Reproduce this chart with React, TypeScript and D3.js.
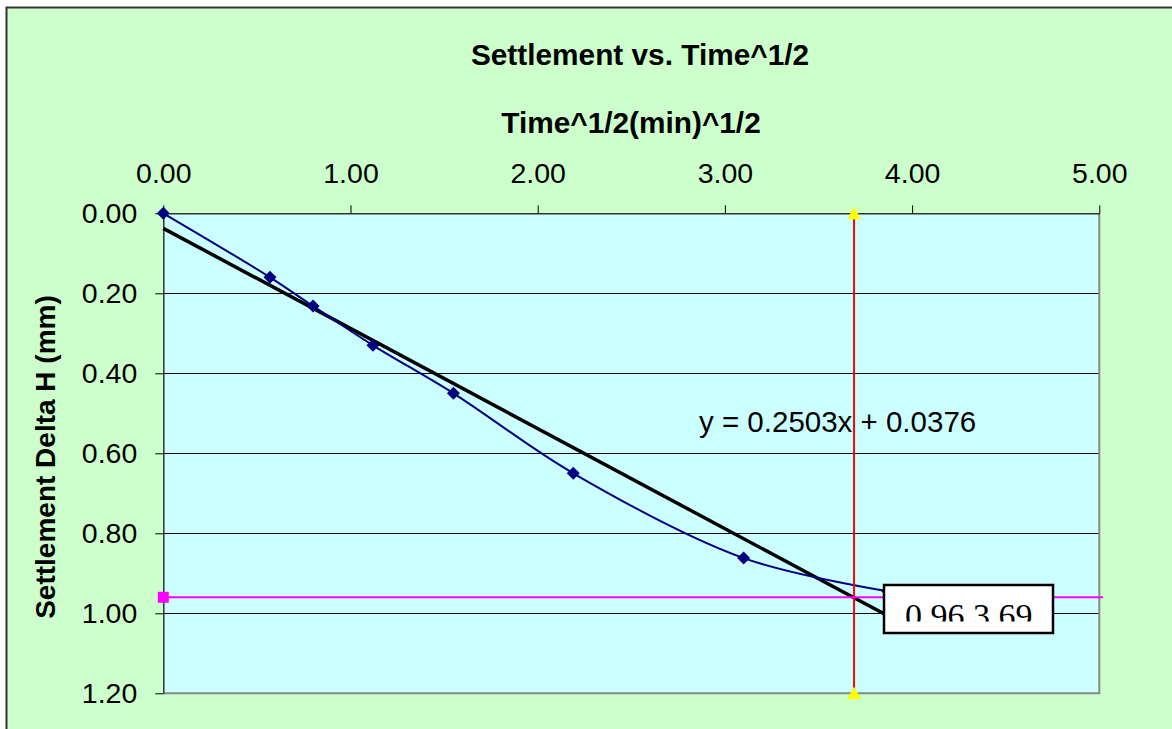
import React, { useEffect, useRef } from "react";
import * as d3 from "d3";

// sqrt(time) vs settlement readings
const timeRoot = [0, 0.57, 0.8, 1.12, 1.55, 2.19, 3.1, 3.87];
const settlement = [0, 0.16, 0.232, 0.33, 0.45, 0.65, 0.862, 0.945];

const xTicks = [0, 1, 2, 3, 4, 5];
const yTicks = [0, 0.2, 0.4, 0.6, 0.8, 1.0, 1.2];

const trendSlope = 0.2503;
const trendIntercept = 0.0376;

const readX = 3.69;
const readY = 0.96;
const readLineEnd = 5.02;

const SANS = "'Liberation Sans', Arial, sans-serif";

export default function App() {
  const ref = useRef<SVGSVGElement>(null);

  useEffect(() => {
    const svg = d3.select(ref.current);
    svg.selectAll("*").remove();

    const W = 1172;
    const H = 729;
    const x = d3.scaleLinear().domain([0, 5]).range([163.3, 1099.3]);
    const y = d3.scaleLinear().domain([0, 1.2]).range([213.3, 693.3]);

    svg.append("rect").attr("width", W).attr("height", H).attr("fill", "#fff");
    svg
      .append("rect")
      .attr("x", 6.5)
      .attr("y", 7.5)
      .attr("width", W + 20)
      .attr("height", H + 20)
      .attr("fill", "#ccffcc")
      .attr("stroke", "#333")
      .attr("stroke-width", 2);

    // plot area
    svg
      .append("rect")
      .attr("x", x(0))
      .attr("y", y(0))
      .attr("width", x(5) - x(0))
      .attr("height", y(1.2) - y(0))
      .attr("fill", "#ccffff");

    // gridlines
    svg
      .append("g")
      .selectAll("line")
      .data(yTicks.slice(1, -1))
      .enter()
      .append("line")
      .attr("x1", x(0))
      .attr("x2", x(5))
      .attr("y1", (d) => Math.round(y(d)) + 0.5)
      .attr("y2", (d) => Math.round(y(d)) + 0.5)
      .attr("stroke", "#000")
      .attr("stroke-width", 1);

    // right / bottom border (gray)
    svg
      .append("path")
      .attr("d", `M${x(5)},${y(0)}V${y(1.2)}H${x(0)}`)
      .attr("fill", "none")
      .attr("stroke", "#888")
      .attr("stroke-width", 2);

    // axes
    const xAxis = svg
      .append("g")
      .attr("transform", `translate(0,${y(0)})`)
      .call(
        d3
          .axisTop(x)
          .tickValues(xTicks)
          .tickFormat(d3.format(".2f"))
          .tickSizeInner(8)
          .tickSizeOuter(0)
          .tickPadding(22)
      );
    const yAxis = svg
      .append("g")
      .attr("transform", `translate(${x(0)},0)`)
      .call(
        d3
          .axisLeft(y)
          .tickValues(yTicks)
          .tickFormat(d3.format(".2f"))
          .tickSizeInner(8)
          .tickSizeOuter(0)
          .tickPadding(18)
      );
    [xAxis, yAxis].forEach((g) => {
      g.select(".domain").attr("stroke", "#333").attr("stroke-width", 1.5);
      g.selectAll(".tick line").attr("stroke", "#000");
      g.selectAll(".tick text")
        .attr("font-family", SANS)
        .attr("font-size", 28.5)
        .attr("fill", "#000");
    });

    // trend line
    const trendEnd = d3.max(timeRoot) as number;
    svg
      .append("line")
      .attr("x1", x(0))
      .attr("y1", y(trendIntercept))
      .attr("x2", x(trendEnd))
      .attr("y2", y(trendIntercept + trendSlope * trendEnd))
      .attr("stroke", "#000")
      .attr("stroke-width", 3.5);

    // measured curve
    const pts = timeRoot.map((t, i) => [t, settlement[i]] as [number, number]);
    const line = d3
      .line<[number, number]>()
      .x((d) => x(d[0]))
      .y((d) => y(d[1]))
      .curve(d3.curveCatmullRom.alpha(0.5));
    svg
      .append("path")
      .attr("d", line(pts))
      .attr("fill", "none")
      .attr("stroke", "#000080")
      .attr("stroke-width", 2);
    svg
      .append("g")
      .selectAll("path")
      .data(pts)
      .enter()
      .append("path")
      .attr("transform", (d) => `translate(${x(d[0])},${y(d[1])})`)
      .attr("d", "M0,-6.5L6.5,0L0,6.5L-6.5,0Z")
      .attr("fill", "#000080");

    // reading lines
    svg
      .append("line")
      .attr("x1", x(readX))
      .attr("x2", x(readX))
      .attr("y1", y(0))
      .attr("y2", y(1.2))
      .attr("stroke", "#ff0000")
      .attr("stroke-width", 2);
    [0, 1.2].forEach((v) => {
      svg
        .append("path")
        .attr("transform", `translate(${x(readX)},${y(v)})`)
        .attr("d", "M0,-6.5L7,6L-7,6Z")
        .attr("fill", "#ffff00");
    });
    svg
      .append("line")
      .attr("x1", x(0))
      .attr("x2", x(readLineEnd))
      .attr("y1", y(readY))
      .attr("y2", y(readY))
      .attr("stroke", "#ff00ff")
      .attr("stroke-width", 2);
    svg
      .append("rect")
      .attr("x", x(0) - 5.5)
      .attr("y", y(readY) - 5.5)
      .attr("width", 11)
      .attr("height", 11)
      .attr("fill", "#ff00ff");

    // equation
    svg
      .append("text")
      .attr("x", 699)
      .attr("y", 432)
      .attr("font-family", SANS)
      .attr("font-size", 29.5)
      .text(`y = ${trendSlope}x + ${trendIntercept}`);

    // reading label box
    const bx = 884;
    const by = 585;
    const bw = 169;
    const bh = 48;
    svg
      .append("defs")
      .append("clipPath")
      .attr("id", "lblclip")
      .append("rect")
      .attr("x", bx)
      .attr("y", by)
      .attr("width", bw)
      .attr("height", 36.5);
    svg
      .append("rect")
      .attr("x", bx)
      .attr("y", by)
      .attr("width", bw)
      .attr("height", bh)
      .attr("fill", "#fff")
      .attr("stroke", "#000")
      .attr("stroke-width", 2.5);
    svg
      .append("text")
      .attr("clip-path", "url(#lblclip)")
      .attr("x", 905)
      .attr("y", 626.5)
      .attr("font-family", "'Liberation Serif', 'Times New Roman', serif")
      .attr("font-size", 34)
      .text(`${readY.toFixed(2)} ${readX.toFixed(2)}`);

    // titles
    svg
      .append("text")
      .attr("x", 640)
      .attr("y", 65)
      .attr("text-anchor", "middle")
      .attr("font-family", SANS)
      .attr("font-weight", "bold")
      .attr("font-size", 29.8)
      .text("Settlement vs. Time^1/2");
    svg
      .append("text")
      .attr("x", 631)
      .attr("y", 133)
      .attr("text-anchor", "middle")
      .attr("font-family", SANS)
      .attr("font-weight", "bold")
      .attr("font-size", 29.8)
      .text("Time^1/2(min)^1/2");
    svg
      .append("text")
      .attr("transform", "translate(55,457) rotate(-90)")
      .attr("text-anchor", "middle")
      .attr("font-family", SANS)
      .attr("font-weight", "bold")
      .attr("font-size", 28)
      .text("Settlement Delta H (mm)");
  }, []);

  return (
    <svg
      ref={ref}
      width={1172}
      height={729}
      style={{ position: "absolute", left: 0, top: 0, display: "block" }}
    />
  );
}
